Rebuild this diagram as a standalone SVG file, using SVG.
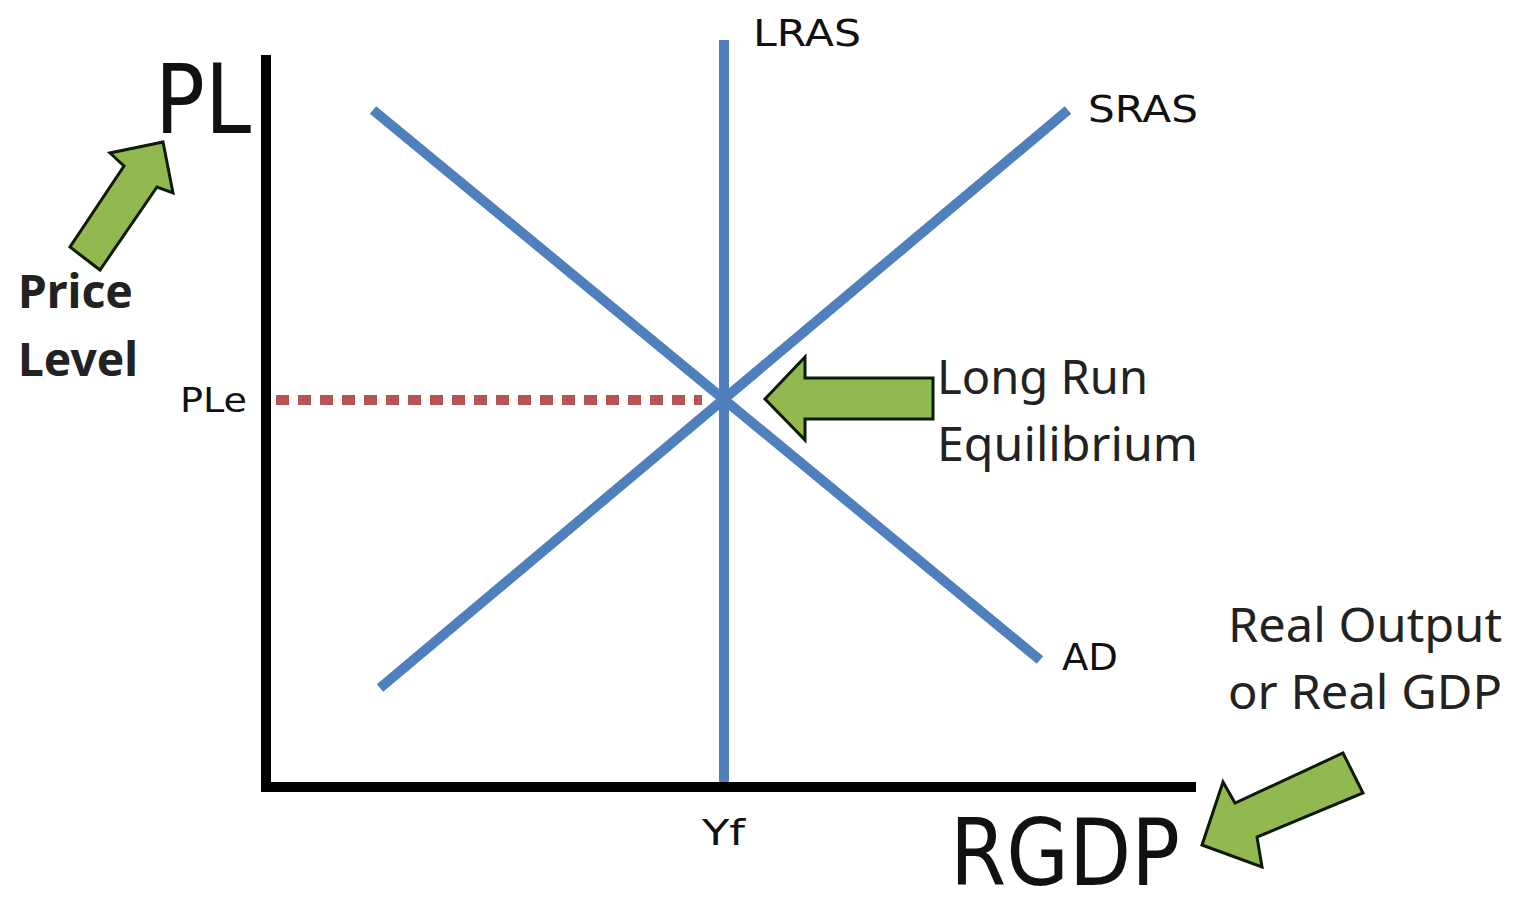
<svg xmlns="http://www.w3.org/2000/svg" width="1514" height="899" viewBox="0 0 1514 899">
<style>
.axis{stroke:#000;stroke-width:10;fill:none}
.curve{stroke:#4f7fbd;stroke-width:10;fill:none}
.dot{stroke:#b85456;stroke-width:10;fill:none;stroke-dasharray:13 9}
.garrow{fill:#92b94f;stroke:#0d1a05;stroke-width:3;stroke-linejoin:miter}
.comic{font-family:"DejaVu Sans",sans-serif;fill:#111}
.cal{font-family:"Noto Sans","Open Sans",sans-serif;fill:#222}
</style>
<rect width="1514" height="899" fill="#fff"/>
<g id="axes">
<line class="axis" x1="266" y1="55" x2="266" y2="792"/>
<line class="axis" x1="261" y1="787" x2="1196" y2="787"/>
</g>
<g id="curves">
<line id="LRAS-line" class="curve" x1="724" y1="40" x2="724" y2="782"/>
<line id="AD-line" class="curve" x1="373" y1="110" x2="1040" y2="660"/>
<line id="SRAS-line" class="curve" x1="380" y1="688" x2="1068" y2="110"/>
<line id="PLe-line" class="dot" x1="276" y1="400" x2="702" y2="400"/>
</g>
<g id="connectors">
<polygon id="arrow-PL" class="garrow" points="163,142 110,153 124,166 70,247 100,270 157,187 173,193"/>
<polygon id="arrow-LRE" class="garrow" points="765,399 805,357 805,378 933,378 933,419 805,419 805,440"/>
<polygon id="arrow-RGDP" class="garrow" points="1202,845 1223,782 1235,803 1343,753 1363,793 1257,837 1262,867"/>
</g>
<g id="label-PL"><text class="comic" x="155" y="133" font-size="96" textLength="96" lengthAdjust="spacingAndGlyphs">PL</text></g>
<g id="label-RGDP"><text class="comic" x="950" y="885" font-size="92" textLength="230" lengthAdjust="spacingAndGlyphs">RGDP</text></g>
<g id="label-LRAS"><text class="comic" x="753" y="46" font-size="38" textLength="108" lengthAdjust="spacingAndGlyphs">LRAS</text></g>
<g id="label-SRAS"><text class="comic" x="1088" y="122" font-size="38" textLength="110" lengthAdjust="spacingAndGlyphs">SRAS</text></g>
<g id="label-AD"><text class="comic" x="1062" y="670" font-size="38" textLength="56" lengthAdjust="spacingAndGlyphs">AD</text></g>
<g id="label-PLe"><text class="comic" x="180" y="412" font-size="34" textLength="67" lengthAdjust="spacingAndGlyphs">PLe</text></g>
<g id="label-Yf"><text class="comic" x="702" y="845" font-size="36" textLength="43" lengthAdjust="spacingAndGlyphs">Yf</text></g>
<g id="label-price-level">
<text class="cal" x="18" y="308" font-size="46" font-weight="bold" textLength="115" lengthAdjust="spacingAndGlyphs">Price</text>
<text class="cal" x="18" y="376" font-size="46" font-weight="bold" textLength="120" lengthAdjust="spacingAndGlyphs">Level</text>
</g>
<g id="label-LRE">
<text class="cal" x="937" y="394" font-size="47" textLength="211" lengthAdjust="spacingAndGlyphs">Long Run</text>
<text class="cal" x="937" y="461" font-size="47" textLength="261" lengthAdjust="spacingAndGlyphs">Equilibrium</text>
</g>
<g id="label-real-output">
<text class="cal" x="1228" y="642" font-size="47" textLength="274" lengthAdjust="spacingAndGlyphs">Real Output</text>
<text class="cal" x="1228" y="709" font-size="47" textLength="274" lengthAdjust="spacingAndGlyphs">or Real GDP</text>
</g>
</svg>
